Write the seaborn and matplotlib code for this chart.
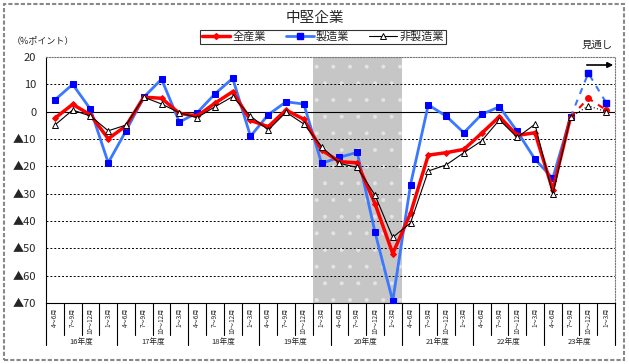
import numpy as np
import pandas as pd
import matplotlib
matplotlib.use("Agg")
import matplotlib.pyplot as plt
import matplotlib.transforms as mtransforms
from matplotlib.patches import Rectangle
import seaborn as sns

# 16年度 4~6月 ... 23年度 1~3月 (32 quarters), last two are 見通し
years = ["16年度", "17年度", "18年度", "19年度", "20年度", "21年度", "22年度", "23年度"]
quarters = ["4～6月", "7～9月", "10～12月", "1～3月"]

all_ind = [-2.4, 2.7, -1.2, -9.9, -5.2, 5.3, 4.9, -0.6,
           -1.6, 3.1, 7.3, -3.2, -5.5, 0.6, -2.8, -14.0,
           -18.3, -18.7, -33.6, -51.9, -37.2, -15.9, -15.0, -13.8,
           -7.9, -1.8, -8.7, -7.7, -28.7, -2.0, 4.9, 0.6]
manuf = [4.3, 10.0, 0.9, -18.7, -7.0, 5.3, 11.9, -3.8,
         -0.4, 6.5, 12.2, -9.0, -1.1, 3.6, 2.8, -18.9,
         -16.7, -14.9, -44.0, -69.3, -26.7, 2.5, -1.6, -7.7,
         -1.0, 1.8, -7.2, -17.4, -24.4, -2.0, 14.1, 3.3]
non_manuf = [-4.9, 0.6, -1.6, -7.0, -4.9, 5.3, 2.8, -0.4,
             -2.2, 1.8, 5.5, -1.6, -6.7, -0.2, -4.5, -12.8,
             -18.9, -20.4, -30.5, -46.0, -40.7, -21.7, -19.5, -15.0,
             -10.7, -3.0, -9.4, -4.6, -30.3, -2.0, 2.1, 0.0]
forecast_start = 29          # last actual quarter; later ones are forecast
shade_from, shade_to = 15, 19  # shaded quarters (recession)

n = len(all_ind)
x = np.arange(n)
df = pd.DataFrame({"x": x, "全産業": all_ind, "製造業": manuf, "非製造業": non_manuf})
act = df[df.x <= forecast_start]
fc = df[df.x >= forecast_start]

sns.set_style("white")
plt.rcParams["font.family"] = ["Noto Sans CJK JP", "DejaVu Sans"]
plt.rcParams["hatch.linewidth"] = 0.4

fig = plt.figure(figsize=(6.29, 3.64), dpi=100)
ax = fig.add_axes([46 / 629, 1 - 303 / 364, 569 / 629, 246 / 364])

ax.axvspan(shade_from - 0.5, shade_to + 0.5, facecolor="#c6c6c6",
           edgecolor="#e4e4e4", hatch=".", linewidth=0, zorder=0)

for yv in range(-60, 20, 10):
    if yv == 0:
        ax.axhline(0, color="black", lw=0.8, zorder=1)
    else:
        ax.axhline(yv, color="black", lw=0.7, ls=(0, (2, 2)), zorder=1)

# actual
sns.lineplot(data=act, x="x", y="製造業", ax=ax, color="#3a78ff", lw=2,
             marker="s", markersize=5, markerfacecolor="#0000ff",
             markeredgecolor="#0000ff", zorder=3)
sns.lineplot(data=act, x="x", y="全産業", ax=ax, color="#ff0000", lw=2.5,
             marker="D", markersize=3, markerfacecolor="#ff0000",
             markeredgecolor="#ff0000", zorder=4)
sns.lineplot(data=act, x="x", y="非製造業", ax=ax, color="black", lw=0.8,
             marker="^", markersize=5, markerfacecolor="white",
             markeredgecolor="black", markeredgewidth=0.7, zorder=5)
# forecast
sns.lineplot(data=fc, x="x", y="製造業", ax=ax, color="#3a78ff", lw=1.5,
             ls=(0, (3, 3)), zorder=3)
sns.lineplot(data=fc, x="x", y="全産業", ax=ax, color="#ff0000", lw=1.5,
             ls=(0, (3, 3)), zorder=4)
sns.lineplot(data=fc, x="x", y="非製造業", ax=ax, color="black", lw=0.8,
             ls=(0, (1, 2)), zorder=5)
f2 = fc[fc.x > forecast_start]
ax.plot(f2.x, f2["製造業"], "s", color="#0000ff", ms=5, zorder=3)
ax.plot(f2.x, f2["全産業"], "o", color="#ff0000", ms=4, zorder=4)
ax.plot(f2.x, f2["非製造業"], "^", mfc="white", mec="black", mew=0.7, ms=5, zorder=5)

ax.set_xlim(-0.5, n - 0.5)
ax.set_ylim(-70, 20)
ax.set_xlabel("")
ax.set_ylabel("")
ax.set_xticks([])
yt = np.arange(-70, 21, 10)
ax.set_yticks(yt)
ax.set_yticklabels([str(v) if v >= 0 else "▲" + str(-v) for v in yt], fontsize=8)
ax.tick_params(axis="y", length=3, width=0.8, color="black", pad=4)

for s in ["top", "right"]:
    ax.spines[s].set_linestyle((0, (1, 1.5)))
    ax.spines[s].set_color("#777777")
    ax.spines[s].set_linewidth(0.8)
ax.spines["left"].set_color("black")
ax.spines["bottom"].set_color("black")
ax.spines["left"].set_linewidth(0.8)
ax.spines["bottom"].set_linewidth(0.8)

# category axis below
trans = mtransforms.blended_transform_factory(ax.transData, ax.transAxes)
for k in range(n + 1):
    b = k - 0.5
    low = -0.171 if k % 4 == 0 else -0.13
    ax.plot([b, b], [0, low], color="black", lw=0.8, transform=trans, clip_on=False)
for i in range(n):
    ax.text(i, -0.02, quarters[i % 4], rotation=90, ha="center", va="top",
            fontsize=4.5, transform=trans)
for j, yr in enumerate(years):
    ax.text(4 * j + 1.5, -0.157, yr, ha="center", va="center", fontsize=5.5,
            transform=trans)

fig.text(315 / 629, 1 - 18 / 364, "中堅企業", ha="center", va="center", fontsize=10.5)
fig.text(12 / 629, 1 - 41 / 364, "（%ポイント）", ha="left", va="center", fontsize=6.5)
fig.text(597 / 629, 1 - 45 / 364, "見通し", ha="center", va="center", fontsize=7.5)
ax.annotate("", xy=(616 / 629, 1 - 65 / 364), xytext=(584 / 629, 1 - 65 / 364),
            xycoords="figure fraction", textcoords="figure fraction",
            arrowprops=dict(arrowstyle="-|>", color="black", lw=1.2,
                            mutation_scale=8))

# legend
hb, = ax.plot([], [], color="#ff0000", lw=2.5, marker="D", ms=3)
hm, = ax.plot([], [], color="#3a78ff", lw=2, marker="s", ms=4, mfc="#0000ff", mec="#0000ff")
hn, = ax.plot([], [], color="black", lw=0.8, marker="^", ms=5, mfc="white", mec="black", mew=0.7)
leg = fig.legend([hb, hm, hn], ["全産業", "製造業", "非製造業"], ncol=3,
                 loc="center", bbox_to_anchor=(323 / 629, 1 - 37 / 364),
                 fontsize=8, frameon=True, fancybox=False, handlelength=2.5,
                 handletextpad=0.2, columnspacing=1.8, borderpad=0.2,
                 labelspacing=0.1)
leg.get_frame().set_edgecolor("black")
leg.get_frame().set_linewidth(0.8)

fig.patches.append(Rectangle((4 / 629, 4 / 364), 620 / 629, 356 / 364,
                             transform=fig.transFigure, fill=False,
                             edgecolor="#888888", lw=1.5, ls=(0, (2, 1))))

fig.savefig("out.png", dpi=100)
